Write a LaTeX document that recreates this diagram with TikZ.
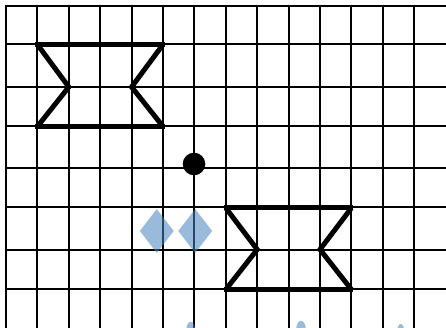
\documentclass[tikz,border=0pt]{standalone}
\usetikzlibrary{shapes.geometric}
\definecolor{gemblue}{RGB}{70,130,190}
\begin{document}
\begin{tikzpicture}[x=1pt,y=-1pt,
  gridline/.style={line width=2pt,black},
  bowtie/.style={line width=5pt,black,line join=miter},
  gem/.style={shape=diamond,fill=gemblue,fill opacity=0.55,draw=none,inner sep=0pt,minimum width=34pt,minimum height=44pt},
  blob/.style={shape=ellipse,fill=gemblue,fill opacity=0.55,draw=none,inner sep=0pt},
  dotnode/.style={shape=circle,fill=black,draw=none,inner sep=0pt,minimum size=22.6pt}]
\useasboundingbox (0,0) rectangle (446,328);
\clip (0,0) rectangle (446,328);
% grid
\foreach \i in {0,...,13} \draw[gridline] ({6+31.4*\i},5) -- ({6+31.4*\i},332);
\foreach \y in {6,44.5,87,126.5,168.5,207.5,249.5,289} \draw[gridline] (5,\y) -- (450,\y);
% bow-tie box 1
\draw[bowtie] (35.4,44.5) -- (165,44.5);
\draw[bowtie] (35.4,126.5) -- (165,126.5);
\draw[bowtie] (37.4,44.5) -- (68.8,87) -- (37.4,126.5);
\draw[bowtie] (163,44.5) -- (131.6,87) -- (163,126.5);
% bow-tie box 2
\draw[bowtie] (223.8,208) -- (353.4,208);
\draw[bowtie] (223.8,289.5) -- (353.4,289.5);
\draw[bowtie] (225.8,208) -- (257.2,249.5) -- (225.8,289.5);
\draw[bowtie] (351.4,208) -- (320,249.5) -- (351.4,289.5);
% diamonds
\node[gem] (d1) at (156.8,231) {};
\node[gem] (d2) at (195.2,231) {};
% dot
\node[dotnode] (dot) at (194,164) {};
% partly visible shapes at the bottom
\node[blob,minimum width=9pt,minimum height=18pt] (b1) at (190.7,330.7) {};
\node[blob,minimum width=10pt,minimum height=20pt] (b2) at (301,330.7) {};
\node[blob,minimum width=7pt,minimum height=14pt] (b3) at (400.7,331) {};
\end{tikzpicture}
\end{document}
